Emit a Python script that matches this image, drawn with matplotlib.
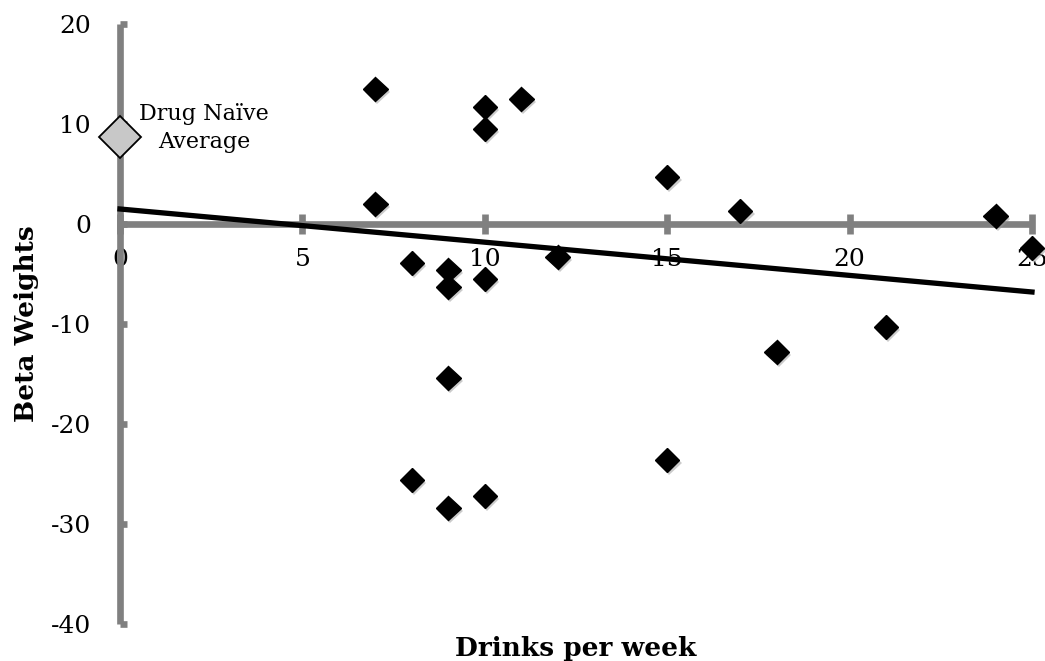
import matplotlib.pyplot as plt
import matplotlib.patheffects as pe

# data
drinks = [7, 7, 8, 8, 9, 9, 9, 9, 10, 10, 10, 10, 11, 12, 15, 15, 17, 18, 21, 24, 25]
betas = [13.5, 2.0, -3.9, -25.6, -4.6, -6.3, -15.4, -28.4, 11.7, 9.5, -5.5, -27.2,
         12.5, -3.3, 4.7, -23.6, 1.3, -12.8, -10.3, 0.8, -2.4]
naive_x = [0]
naive_y = [8.7]
trend_x = [0, 25]
trend_y = [1.5, -6.8]

plt.rcParams['font.family'] = ['DejaVu Serif']
plt.rcParams['axes.unicode_minus'] = False

fig = plt.figure(figsize=(10.45, 6.61), dpi=100)
ax = fig.add_axes([120/1045, 1 - 624/661, (1032 - 120)/1045, 600/661])

gray = '#808080'
shadow = [pe.SimplePatchShadow(offset=(1.5, -2), shadow_rgbFace='#999999', alpha=0.5), pe.Normal()]

ax.plot(trend_x, trend_y, color='black', lw=3.8, zorder=3, clip_on=False)
ax.plot(drinks, betas, 'D', color='black', ms=12.5, zorder=4, clip_on=False,
        path_effects=shadow)
ax.plot(naive_x, naive_y, 'D', mfc='#c8c8c8', mec='black', mew=1.3, ms=21.5, zorder=5,
        clip_on=False)
ax.text(2.3, 9.6, 'Drug Naïve\nAverage', ha='center', va='center', fontsize=16,
        linespacing=1.3)

ax.set_xlim(0, 25)
ax.set_ylim(-40, 20)
ax.set_xticks([0, 5, 10, 15, 20, 25])
ax.set_yticks([-40, -30, -20, -10, 0, 10, 20])

for s in ['top', 'right']:
    ax.spines[s].set_visible(False)
ax.spines['bottom'].set_position(('data', 0))
for s in ['left', 'bottom']:
    ax.spines[s].set_color(gray)
    ax.spines[s].set_linewidth(4.8)
    ax.spines[s].set_capstyle('butt')

ax.tick_params(axis='y', direction='in', length=5, width=4.8, color=gray,
               labelsize=18, pad=21)
ax.tick_params(axis='x', direction='inout', length=14, width=4.8, color=gray,
               labelsize=18, pad=10)

ax.set_ylabel('Beta Weights', fontsize=19, fontweight='bold')
ax.yaxis.set_label_coords(-0.089, 0.5)
ax.set_xlabel('Drinks per week', fontsize=19, fontweight='bold')
ax.xaxis.set_label_coords(0.5, -0.02)

fig.savefig('out.png', dpi=100)
